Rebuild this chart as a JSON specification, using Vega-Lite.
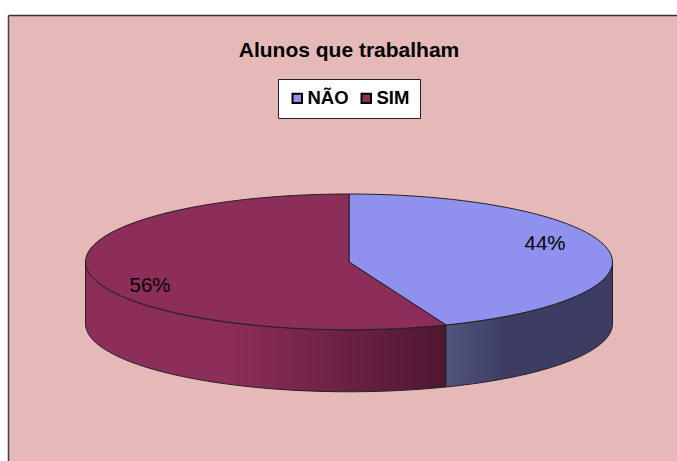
{
  "$schema": "https://vega.github.io/schema/vega-lite/v6.json",
  "autosize": "none",
  "padding": {"left": 8, "top": 15, "right": 0, "bottom": 0},
  "width": 669,
  "height": 446,
  "background": "white",
  "view": {"fill": "#E6B9B9", "stroke": null},
  "title": {
    "text": "Alunos que trabalham",
    "anchor": "middle",
    "font": "Liberation Sans",
    "fontSize": 21,
    "fontWeight": "bold",
    "color": "black",
    "dx": 6.5,
    "offset": -46
  },
  "data": {
    "values": [
      {"categoria": "NÃO", "valor": 0.44},
      {"categoria": "SIM", "valor": 0.56}
    ]
  },
  "layer": [
    {
      "mark": {"type": "point", "opacity": 0},
      "encoding": {
        "x": {
          "datum": 0,
          "type": "quantitative",
          "scale": {"domain": [0, 1]},
          "axis": {"orient": "top", "title": null, "labels": false, "ticks": false, "grid": false, "domain": true, "domainColor": "#333333", "domainWidth": 1.5}
        },
        "y": {
          "datum": 0,
          "type": "quantitative",
          "scale": {"domain": [0, 1]},
          "axis": {"orient": "left", "title": null, "labels": false, "ticks": false, "grid": false, "domain": true, "domainColor": "#444444", "domainWidth": 1.5}
        }
      }
    },
    {
      "transform": [{"filter": "datum.categoria === 'SIM'"}],
      "mark": {
        "type": "point",
        "filled": true,
        "size": 4,
        "opacity": 1,
        "shape": "M-257,24 A263.5,68 0 0 0 103.5,87 L103.5,149 A263.5,68 0 0 1 -257,86 Z",
        "stroke": "#222222",
        "strokeWidth": 1,
        "fill": {
          "gradient": "linear", "x1": 0, "x2": 1, "y1": 0, "y2": 0,
          "stops": [
            {"offset": 0, "color": "#8C2D5A"},
            {"offset": 0.4, "color": "#8C2D5A"},
            {"offset": 1, "color": "#4E1730"}
          ]
        }
      },
      "encoding": {}
    },
    {
      "transform": [{"filter": "datum.categoria === 'NÃO'"}],
      "mark": {
        "type": "point",
        "filled": true,
        "size": 4,
        "opacity": 1,
        "shape": "M103.5,87 A263.5,68 0 0 0 270,24 L270,86 A263.5,68 0 0 1 103.5,149 Z",
        "stroke": "#222222",
        "strokeWidth": 1,
        "fill": {
          "gradient": "linear", "x1": 0, "x2": 1, "y1": 0, "y2": 0,
          "stops": [
            {"offset": 0, "color": "#50567F"},
            {"offset": 0.35, "color": "#3D3D63"},
            {"offset": 1, "color": "#3D3D63"}
          ]
        }
      },
      "encoding": {}
    },
    {
      "mark": {"type": "point", "filled": true, "size": 4, "opacity": 1, "stroke": "#222222", "strokeWidth": 1},
      "encoding": {
        "fill": {
          "field": "categoria",
          "type": "nominal",
          "scale": {"domain": ["NÃO", "SIM"], "range": ["#9090EE", "#8C2D5A"]},
          "legend": {
            "orient": "none",
            "legendX": 270,
            "legendY": 64,
            "title": null,
            "direction": "horizontal",
            "columns": 2,
            "symbolType": "square",
            "symbolSize": 90,
            "symbolStrokeColor": "black",
            "symbolStrokeWidth": 2,
            "symbolOpacity": 1,
            "fillColor": "white",
            "strokeColor": "#222222",
            "padding": 10,
            "columnPadding": 8,
            "labelFont": "Liberation Sans",
            "labelFontSize": 18.5,
            "labelFontWeight": "bold",
            "labelColor": "black",
            "labelOffset": 1
          }
        },
        "shape": {
          "field": "categoria",
          "type": "nominal",
          "legend": null,
          "scale": {
            "domain": ["SIM", "NÃO"],
            "range": [
              "M6.5,24 L103.5,87 A263.5,68 0 0 1 -257,24 A263.5,68 0 0 1 6.5,-44 Z",
              "M6.5,24 L6.5,-44 A263.5,68 0 0 1 270,24 A263.5,68 0 0 1 103.5,87 Z"
            ]
          }
        }
      }
    },
    {
      "transform": [{"filter": "datum.categoria === 'NÃO'"}],
      "mark": {"type": "text", "font": "Liberation Sans", "fontSize": 20.5, "color": "black", "dx": 202.5, "dy": 6},
      "encoding": {"text": {"field": "valor", "type": "quantitative", "format": ".0%"}}
    },
    {
      "transform": [{"filter": "datum.categoria === 'SIM'"}],
      "mark": {"type": "text", "font": "Liberation Sans", "fontSize": 20.5, "color": "black", "dx": -192.5, "dy": 48},
      "encoding": {"text": {"field": "valor", "type": "quantitative", "format": ".0%"}}
    }
  ]
}
